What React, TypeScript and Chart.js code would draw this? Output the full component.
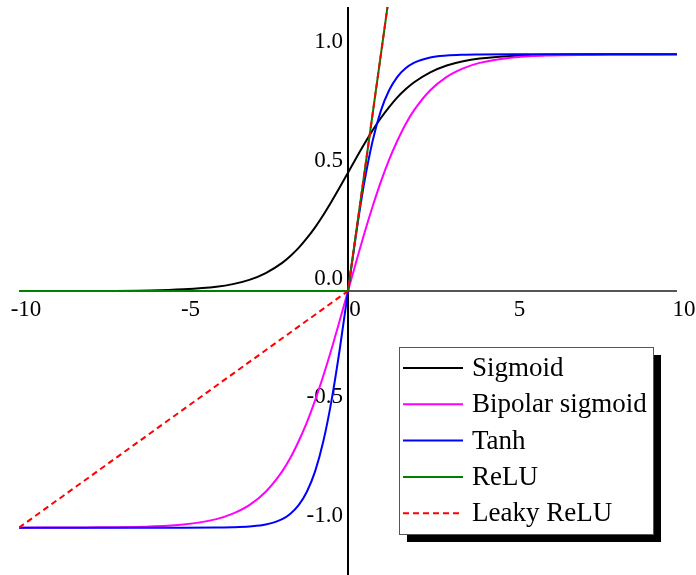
import React, { useEffect, useRef } from 'react';
import { Chart, registerables } from 'chart.js';
Chart.register(...registerables);

// Sampled x positions shared by the smooth curves
const xs = [-10, -8, -6, -5, -4, -3.5, -3, -2.5, -2, -1.75, -1.5, -1.25, -1, -0.75, -0.5, -0.25, 0,
  0.25, 0.5, 0.75, 1, 1.25, 1.5, 1.75, 2, 2.5, 3, 3.5, 4, 5, 6, 8, 10];

const sigmoidY = [0.000, 0.000, 0.002, 0.007, 0.018, 0.029, 0.047, 0.076, 0.119, 0.148, 0.182, 0.223, 0.269, 0.321, 0.378, 0.438, 0.5,
  0.562, 0.622, 0.679, 0.731, 0.777, 0.818, 0.852, 0.881, 0.924, 0.953, 0.971, 0.982, 0.993, 0.998, 1.000, 1.000];

const bipolarY = [-1.000, -0.999, -0.995, -0.987, -0.964, -0.941, -0.905, -0.848, -0.762, -0.705, -0.635, -0.555, -0.462, -0.358, -0.245, -0.124, 0,
  0.124, 0.245, 0.358, 0.462, 0.555, 0.635, 0.705, 0.762, 0.848, 0.905, 0.941, 0.964, 0.987, 0.995, 0.999, 1.000];

const tanhY = [-1.000, -1.000, -1.000, -1.000, -0.999, -0.998, -0.995, -0.987, -0.964, -0.941, -0.905, -0.848, -0.762, -0.635, -0.462, -0.245, 0,
  0.245, 0.462, 0.635, 0.762, 0.848, 0.905, 0.941, 0.964, 0.987, 0.995, 0.998, 0.999, 1.000, 1.000, 1.000, 1.000];

const reluX = [-10, 0, 1.4];
const reluY = [0, 0, 1.4];
const leakyX = [-10, 0, 1.4];
const leakyY = [-1, 0, 1.4];

const xTicks = [-10, -5, 0, 5, 10];
const xTickLabels = ['-10', '-5', '0', '5', '10'];
const yTicks = [1, 0.5, 0, -0.5, -1];
const yTickLabels = ['1.0', '0.5', '0.0', '-0.5', '-1.0'];

const seriesNames = ['Sigmoid', 'Bipolar sigmoid', 'Tanh', 'ReLU', 'Leaky ReLU'];
const seriesColors = ['#000000', '#ff00ff', '#0000ff', '#008000', '#ff0000'];
const seriesDashed = [false, false, false, false, true];

const SERIF = '"Liberation Serif", "Times New Roman", serif';

const axesPlugin = {
  id: 'mapleAxes',
  beforeDatasetsDraw(chart: any) {
    const ctx = chart.ctx;
    const xs_ = chart.scales.x;
    const ys_ = chart.scales.y;
    const x0 = xs_.getPixelForValue(0);
    const y0 = ys_.getPixelForValue(0);
    ctx.save();
    // x axis
    ctx.strokeStyle = '#555555';
    ctx.lineWidth = 2;
    ctx.beginPath();
    ctx.moveTo(xs_.getPixelForValue(-10), y0);
    ctx.lineTo(xs_.getPixelForValue(10), y0);
    ctx.stroke();
    // y axis
    ctx.strokeStyle = '#000000';
    ctx.beginPath();
    ctx.moveTo(x0, chart.chartArea.top);
    ctx.lineTo(x0, chart.height);
    ctx.stroke();
    // labels
    ctx.fillStyle = '#000000';
    ctx.font = '23px ' + SERIF;
    ctx.textAlign = 'center';
    ctx.textBaseline = 'alphabetic';
    xTicks.forEach((v, i) => {
      ctx.fillText(xTickLabels[i], xs_.getPixelForValue(v) + 7, y0 + 25);
    });
    ctx.textAlign = 'right';
    yTicks.forEach((v, i) => {
      ctx.fillText(yTickLabels[i], x0 - 5, ys_.getPixelForValue(v) - 6);
    });
    ctx.restore();
  },
};

const legendPlugin = {
  id: 'boxLegend',
  afterDraw(chart: any) {
    const ctx = chart.ctx;
    const bx = 399, by = 347, bw = 254, bh = 187;
    ctx.save();
    ctx.fillStyle = '#000000';
    ctx.fillRect(bx + 8, by + 8, bw, bh);
    ctx.fillStyle = '#ffffff';
    ctx.fillRect(bx, by, bw, bh);
    ctx.strokeStyle = '#555555';
    ctx.lineWidth = 1;
    ctx.strokeRect(bx + 0.5, by + 0.5, bw, bh);
    ctx.font = '27px ' + SERIF;
    ctx.textAlign = 'left';
    ctx.textBaseline = 'middle';
    seriesNames.forEach((name, i) => {
      const y = 368 + i * 36.3;
      ctx.strokeStyle = seriesColors[i];
      ctx.lineWidth = 2;
      ctx.setLineDash(seriesDashed[i] ? [6, 4] : []);
      ctx.beginPath();
      ctx.moveTo(403, y);
      ctx.lineTo(463, y);
      ctx.stroke();
      ctx.setLineDash([]);
      ctx.fillStyle = '#000000';
      ctx.fillText(name, 472, y + 1);
    });
    ctx.restore();
  },
};

export default function App() {
  const ref = useRef<HTMLCanvasElement | null>(null);
  useEffect(() => {
    document.body.style.margin = '0';
    const canvas = ref.current;
    if (!canvas) return;
    const mk = (xArr: number[], yArr: number[]) => xArr.map((x, i) => ({ x, y: yArr[i] }));
    const chart = new Chart(canvas, {
      type: 'line',
      data: {
        datasets: [
          { label: seriesNames[0], data: mk(xs, sigmoidY), borderColor: seriesColors[0], order: 5 },
          { label: seriesNames[1], data: mk(xs, bipolarY), borderColor: seriesColors[1], order: 4 },
          { label: seriesNames[2], data: mk(xs, tanhY), borderColor: seriesColors[2], order: 3 },
          { label: seriesNames[3], data: mk(reluX, reluY), borderColor: seriesColors[3], order: 2, cubicInterpolationMode: 'default', tension: 0 },
          { label: seriesNames[4], data: mk(leakyX, leakyY), borderColor: seriesColors[4], borderDash: [6, 4], order: 1, cubicInterpolationMode: 'default', tension: 0 },
        ] as any,
      },
      options: {
        animation: false,
        responsive: false,
        devicePixelRatio: 1,
        layout: { padding: { left: 19, right: 19, top: 7, bottom: 0 } },
        elements: {
          point: { radius: 0 },
          line: { borderWidth: 2, cubicInterpolationMode: 'monotone', fill: false },
        },
        scales: {
          x: { type: 'linear', min: -10, max: 10, display: false },
          y: { type: 'linear', min: -1.2, max: 1.2, display: false },
        },
        plugins: {
          legend: { display: false },
          tooltip: { enabled: false },
        },
      },
      plugins: [axesPlugin, legendPlugin],
    });
    return () => chart.destroy();
  }, []);
  return <canvas ref={ref} width={696} height={575} style={{ display: 'block' }} />;
}
